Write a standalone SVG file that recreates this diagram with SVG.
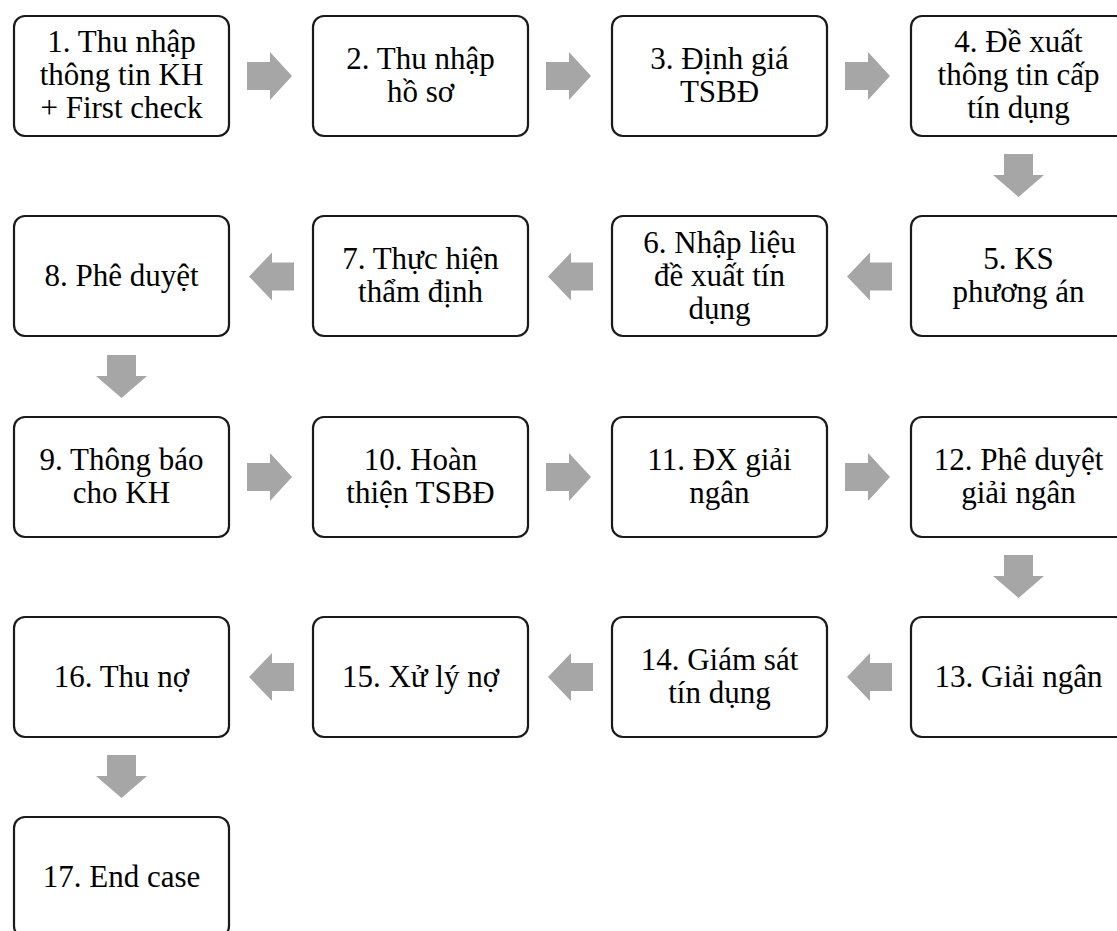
<svg xmlns="http://www.w3.org/2000/svg" xmlns:xlink="http://www.w3.org/1999/xlink" width="1117" height="931" viewBox="0 0 1117 931">
<style>
.box{fill:#fff;stroke:#1a1a1a;stroke-width:2.2}
.t{font-family:"Liberation Serif","Times New Roman",serif;font-size:31px;fill:#000;text-anchor:middle}
.arr{fill:#a6a6a6;stroke:none}
</style>
<defs>
<path id="ar" d="M0,-14 H23 V-24 L45,0 L23,24 V14 H0 Z"/>
<path id="al" d="M0,0 L23,-24 V-14 H45 V14 H23 V24 Z"/>
<path id="ad" d="M-14.5,0 H14.5 V21 H25.5 L0,43 L-25.5,21 H-14.5 Z"/>
</defs>
<rect width="1117" height="931" fill="#fff"/>
<g id="connectors" class="arr">
<use xlink:href="#ar" transform="translate(247,76)"/>
<use xlink:href="#ar" transform="translate(546,76)"/>
<use xlink:href="#ar" transform="translate(845,76)"/>
<use xlink:href="#ad" transform="translate(1018.5,154)"/>
<use xlink:href="#al" transform="translate(847,276.5)"/>
<use xlink:href="#al" transform="translate(548,276.5)"/>
<use xlink:href="#al" transform="translate(249,276.5)"/>
<use xlink:href="#ad" transform="translate(121.5,355)"/>
<use xlink:href="#ar" transform="translate(247,477)"/>
<use xlink:href="#ar" transform="translate(546,477)"/>
<use xlink:href="#ar" transform="translate(845,477)"/>
<use xlink:href="#ad" transform="translate(1018.5,555)"/>
<use xlink:href="#al" transform="translate(847,677)"/>
<use xlink:href="#al" transform="translate(548,677)"/>
<use xlink:href="#al" transform="translate(249,677)"/>
<use xlink:href="#ad" transform="translate(121.5,755)"/>
</g>
<g id="n1"><rect class="box" x="14" y="16" width="215" height="120" rx="11"/><text class="t" x="121.5" y="52">1. Thu nhập</text><text class="t" x="121.5" y="85">thông tin KH</text><text class="t" x="121.5" y="118">+ First check</text></g>
<g id="n2"><rect class="box" x="313" y="16" width="215" height="120" rx="11"/><text class="t" x="420.5" y="68.5">2. Thu nhập</text><text class="t" x="420.5" y="101.5">hồ sơ</text></g>
<g id="n3"><rect class="box" x="612" y="16" width="215" height="120" rx="11"/><text class="t" x="719.5" y="68.5">3. Định giá</text><text class="t" x="719.5" y="101.5">TSBĐ</text></g>
<g id="n4"><rect class="box" x="911" y="16" width="215" height="120" rx="11"/><text class="t" x="1018.5" y="52">4. Đề xuất</text><text class="t" x="1018.5" y="85">thông tin cấp</text><text class="t" x="1018.5" y="118">tín dụng</text></g>
<g id="n5"><rect class="box" x="911" y="216" width="215" height="120" rx="11"/><text class="t" x="1018.5" y="269">5. KS</text><text class="t" x="1018.5" y="302">phương án</text></g>
<g id="n6"><rect class="box" x="612" y="216" width="215" height="120" rx="11"/><text class="t" x="719.5" y="252.5">6. Nhập liệu</text><text class="t" x="719.5" y="285.5">đề xuất tín</text><text class="t" x="719.5" y="318.5">dụng</text></g>
<g id="n7"><rect class="box" x="313" y="216" width="215" height="120" rx="11"/><text class="t" x="420.5" y="269">7. Thực hiện</text><text class="t" x="420.5" y="302">thẩm định</text></g>
<g id="n8"><rect class="box" x="14" y="216" width="215" height="120" rx="11"/><text class="t" x="121.5" y="286">8. Phê duyệt</text></g>
<g id="n9"><rect class="box" x="14" y="417" width="215" height="120" rx="11"/><text class="t" x="121.5" y="469.5">9. Thông báo</text><text class="t" x="121.5" y="502.5">cho KH</text></g>
<g id="n10"><rect class="box" x="313" y="417" width="215" height="120" rx="11"/><text class="t" x="420.5" y="469.5">10. Hoàn</text><text class="t" x="420.5" y="502.5">thiện TSBĐ</text></g>
<g id="n11"><rect class="box" x="612" y="417" width="215" height="120" rx="11"/><text class="t" x="719.5" y="469.5">11. ĐX giải</text><text class="t" x="719.5" y="502.5">ngân</text></g>
<g id="n12"><rect class="box" x="911" y="417" width="215" height="120" rx="11"/><text class="t" x="1018.5" y="469.5">12. Phê duyệt</text><text class="t" x="1018.5" y="502.5">giải ngân</text></g>
<g id="n13"><rect class="box" x="911" y="617" width="215" height="120" rx="11"/><text class="t" x="1018.5" y="687">13. Giải ngân</text></g>
<g id="n14"><rect class="box" x="612" y="617" width="215" height="120" rx="11"/><text class="t" x="719.5" y="669.5">14. Giám sát</text><text class="t" x="719.5" y="702.5">tín dụng</text></g>
<g id="n15"><rect class="box" x="313" y="617" width="215" height="120" rx="11"/><text class="t" x="420.5" y="687">15. Xử lý nợ</text></g>
<g id="n16"><rect class="box" x="14" y="617" width="215" height="120" rx="11"/><text class="t" x="121.5" y="687">16. Thu nợ</text></g>
<g id="n17"><rect class="box" x="14" y="817" width="215" height="120" rx="11"/><text class="t" x="121.5" y="887">17. End case</text></g>
</svg>
